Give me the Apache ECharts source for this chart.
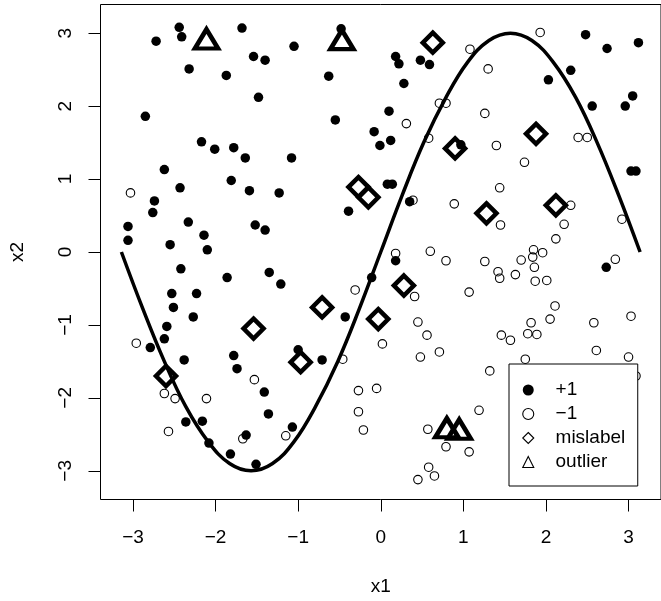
<!DOCTYPE html>
<html>
<head>
<meta charset="utf-8">
<script src="https://cdn.jsdelivr.net/npm/echarts@6/dist/echarts.min.js"></script>
<style>
  html, body { margin: 0; padding: 0; background: #fff; }
  #chart { width: 661px; height: 601px; }
</style>
</head>
<body>
<div id="chart"></div>
<script>
// class +1 (filled dots)
const plusPoints = [
  [-2.44, 3.08], [-2.41, 2.95], [-2.72, 2.89], [-1.68, 3.07], [-1.54, 2.68], [-1.40, 2.63],
  [-2.32, 2.51], [-1.87, 2.42], [-1.48, 2.12], [-2.85, 1.86], [-2.17, 1.51], [-2.01, 1.41],
  [-1.78, 1.43], [-1.64, 1.29], [-2.62, 1.13], [-1.05, 2.82], [-0.48, 3.06], [-0.63, 2.41],
  [0.18, 2.68], [0.22, 2.58], [0.48, 2.63], [0.59, 2.57], [0.28, 2.31], [-0.55, 1.81],
  [0.10, 1.93], [-0.08, 1.65], [0.12, 1.53], [-0.01, 1.46], [-1.08, 1.29], [0.97, 1.47],
  [2.48, 2.98], [2.74, 2.79], [3.12, 2.87], [2.30, 2.49], [2.03, 2.36], [2.56, 2.00],
  [3.05, 2.14], [2.96, 2.00], [3.03, 1.11], [3.09, 1.11], [-2.43, 0.88], [-1.81, 0.98],
  [-1.59, 0.84], [-1.23, 0.81], [-2.74, 0.70], [-2.76, 0.54], [-3.06, 0.35], [-3.06, 0.16],
  [-2.33, 0.41], [-2.14, 0.23], [-2.55, 0.10], [-2.10, 0.03], [-1.52, 0.37], [-1.40, 0.30],
  [-2.42, -0.23], [-1.86, -0.35], [-1.35, -0.28], [-1.21, -0.44], [-2.53, -0.57], [-2.23, -0.57],
  [-2.51, -0.76], [-2.27, -0.89], [-2.59, -1.02], [-2.62, -1.19], [0.08, 0.93], [0.14, 0.93],
  [0.35, 0.69], [-0.39, 0.56], [0.18, -0.12], [-0.11, -0.35], [-0.43, -0.89], [2.73, -0.21],
  [-2.79, -1.31], [-2.38, -1.48], [-1.78, -1.42], [-1.74, -1.60], [-1.41, -1.92], [-1.36, -2.22],
  [-2.36, -2.33], [-2.16, -2.32], [-1.63, -2.51], [-2.08, -2.62], [-1.82, -2.77], [-1.51, -2.91],
  [-1.00, -1.34], [-0.71, -1.48], [-1.07, -2.40]
];

// class -1 (open circles)
const minusPoints = [
  [1.08, 2.78], [0.71, 2.04], [0.79, 2.04], [0.31, 1.76], [0.58, 1.56], [1.93, 3.01],
  [1.30, 2.51], [1.26, 1.90], [1.40, 1.46], [1.74, 1.23], [2.39, 1.57], [2.50, 1.57],
  [-3.03, 0.81], [0.39, 0.71], [0.89, 0.66], [0.18, -0.02], [0.60, 0.01], [0.79, -0.12],
  [-0.31, -0.52], [0.41, -0.61], [1.07, -0.55], [0.45, -0.96], [0.56, -1.14], [1.44, 0.88],
  [2.30, 0.64], [1.45, 0.37], [2.22, 0.38], [2.92, 0.45], [2.12, 0.18], [1.85, 0.03],
  [1.96, -0.01], [1.84, -0.07], [1.70, -0.11], [1.26, -0.13], [1.86, -0.21], [1.42, -0.27],
  [1.44, -0.36], [1.63, -0.31], [1.87, -0.40], [2.01, -0.39], [2.84, -0.10], [2.11, -0.74],
  [2.05, -0.92], [1.82, -0.97], [2.58, -0.97], [3.03, -0.88], [1.46, -1.14], [1.78, -1.12],
  [1.89, -1.13], [1.57, -1.21], [-2.96, -1.25], [-2.62, -1.94], [-2.49, -2.01], [-2.11, -2.01],
  [-2.57, -2.46], [-1.53, -1.75], [-1.67, -2.56], [-1.15, -2.52], [0.02, -1.26], [-0.46, -1.47],
  [0.48, -1.44], [0.71, -1.37], [-0.27, -1.90], [-0.05, -1.87], [-0.27, -2.19], [-0.21, -2.44],
  [0.57, -2.43], [0.79, -2.67], [1.07, -2.74], [0.58, -2.95], [0.65, -3.07], [0.45, -3.12],
  [2.61, -1.35], [3.00, -1.44], [3.09, -1.70], [1.32, -1.63], [1.19, -2.17], [1.75, -1.47],
  [1.85, -3.14]
];

// mislabelled points (diamonds)
const mislabelPoints = [
  [0.63, 2.87], [0.90, 1.42], [1.88, 1.62], [-1.54, -1.05], [-0.27, 0.89], [-0.15, 0.75],
  [0.28, -0.46], [-0.71, -0.76], [-0.03, -0.92], [1.28, 0.53], [2.12, 0.64], [-2.60, -1.70],
  [-0.97, -1.51]
];

// outliers (triangles)
const outlierPoints = [
  [-2.11, 2.88], [-0.47, 2.87], [0.80, -2.45], [0.95, -2.47]
];

// decision boundary
const curveX = [-3.14, -2.88, -2.62, -2.36, -2.09, -1.83, -1.57, -1.31, -1.05, -0.79, -0.52, -0.26,
  0, 0.26, 0.52, 0.79, 1.05, 1.31, 1.57, 1.83, 2.09, 2.36, 2.62, 2.88, 3.14];
const curveY = [0, -0.78, -1.5, -2.12, -2.6, -2.9, -3, -2.9, -2.6, -2.12, -1.5, -0.78,
  0, 0.78, 1.5, 2.12, 2.6, 2.9, 3, 2.9, 2.6, 2.12, 1.5, 0.78, 0];

const xTicks = [-3, -2, -1, 0, 1, 2, 3];
const xTickLabels = ['\u22123', '\u22122', '\u22121', '0', '1', '2', '3'];
const yTicks = [-3, -2, -1, 0, 1, 2, 3];
const yTickLabels = ['\u22123', '\u22122', '\u22121', '0', '1', '2', '3'];

const fontFamily = '"Liberation Sans", Arial, Helvetica, sans-serif';
const fontSize = 19;

const curveData = curveX.map((x, i) => [x, curveY[i]]);

const option = {
  animation: false,
  backgroundColor: '#fff',
  grid: {
    show: true,
    left: 98,
    top: 4.5,
    width: 571,
    height: 499.4,
    borderColor: '#000',
    borderWidth: 1,
    backgroundColor: 'transparent'
  },
  legend: {
    orient: 'vertical',
    left: 509,
    top: 364,
    backgroundColor: '#fff',
    borderColor: '#000',
    borderWidth: 1,
    borderRadius: 0,
    padding: [16.5, 12.5, 14.5, 13.2],
    itemWidth: 11,
    itemHeight: 11,
    itemGap: 5,
    selectedMode: false,
    textStyle: {
      fontFamily: fontFamily,
      fontSize: fontSize,
      color: '#000',
      padding: [0, 0, 0, 16.8]
    },
    data: [
      { name: '+1', icon: 'circle', itemStyle: { color: '#000', borderWidth: 0 } },
      { name: '\u22121', icon: 'circle', itemStyle: { color: 'rgba(0,0,0,0)', borderColor: '#000', borderWidth: 1.1 } },
      { name: 'mislabel', icon: 'diamond', itemStyle: { color: 'rgba(0,0,0,0)', borderColor: '#000', borderWidth: 1.1 } },
      { name: 'outlier', icon: 'triangle', itemStyle: { color: 'rgba(0,0,0,0)', borderColor: '#000', borderWidth: 1.1 } }
    ]
  },
  xAxis: {
    type: 'value',
    min: -3.393,
    max: 3.393,
    name: 'x1',
    nameLocation: 'middle',
    nameGap: 77.5,
    nameTextStyle: { fontFamily: fontFamily, fontSize: fontSize, color: '#000' },
    axisLine: { show: false, onZero: false },
    splitLine: { show: false },
    axisTick: {
      show: true,
      customValues: xTicks,
      length: 12,
      lineStyle: { color: '#000', width: 1 }
    },
    axisLabel: {
      customValues: xTicks,
      margin: 29,
      fontFamily: fontFamily,
      fontSize: fontSize,
      color: '#000',
      formatter: v => xTickLabels[xTicks.indexOf(v)]
    }
  },
  yAxis: {
    type: 'value',
    min: -3.393,
    max: 3.393,
    name: 'x2',
    nameLocation: 'middle',
    nameGap: 73.5,
    nameTextStyle: { fontFamily: fontFamily, fontSize: fontSize, color: '#000' },
    axisLine: { show: false, onZero: false },
    splitLine: { show: false },
    axisTick: {
      show: true,
      customValues: yTicks,
      length: 12,
      lineStyle: { color: '#000', width: 1 }
    },
    axisLabel: {
      customValues: yTicks,
      rotate: 90,
      margin: 25,
      fontFamily: fontFamily,
      fontSize: fontSize,
      color: '#000',
      formatter: v => yTickLabels[yTicks.indexOf(v)]
    }
  },
  series: [
    {
      name: '+1',
      type: 'scatter',
      data: plusPoints,
      symbol: 'circle',
      symbolSize: 9.5,
      itemStyle: { color: '#000', opacity: 1 },
      silent: true
    },
    {
      name: '\u22121',
      type: 'scatter',
      data: minusPoints,
      symbol: 'circle',
      symbolSize: 8.5,
      itemStyle: { color: 'rgba(0,0,0,0)', borderColor: '#000', borderWidth: 1.1, opacity: 1 },
      silent: true
    },
    {
      name: 'boundary',
      type: 'line',
      data: curveData,
      smooth: 0.4,
      showSymbol: false,
      lineStyle: { color: '#000', width: 3.5 },
      silent: true
    },
    {
      name: 'mislabel',
      type: 'scatter',
      data: mislabelPoints,
      symbol: 'diamond',
      symbolSize: 20,
      itemStyle: { color: 'rgba(0,0,0,0)', borderColor: '#000', borderWidth: 4.5, opacity: 1 },
      silent: true
    },
    {
      name: 'outlier',
      type: 'scatter',
      data: outlierPoints,
      symbol: 'triangle',
      symbolSize: [23, 19],
      symbolOffset: [0, -3],
      itemStyle: { color: 'rgba(0,0,0,0)', borderColor: '#000', borderWidth: 4.5, opacity: 1 },
      silent: true
    }
  ]
};

const chart = echarts.init(document.getElementById('chart'), null, { renderer: 'canvas' });
chart.setOption(option);
</script>
</body>
</html>
